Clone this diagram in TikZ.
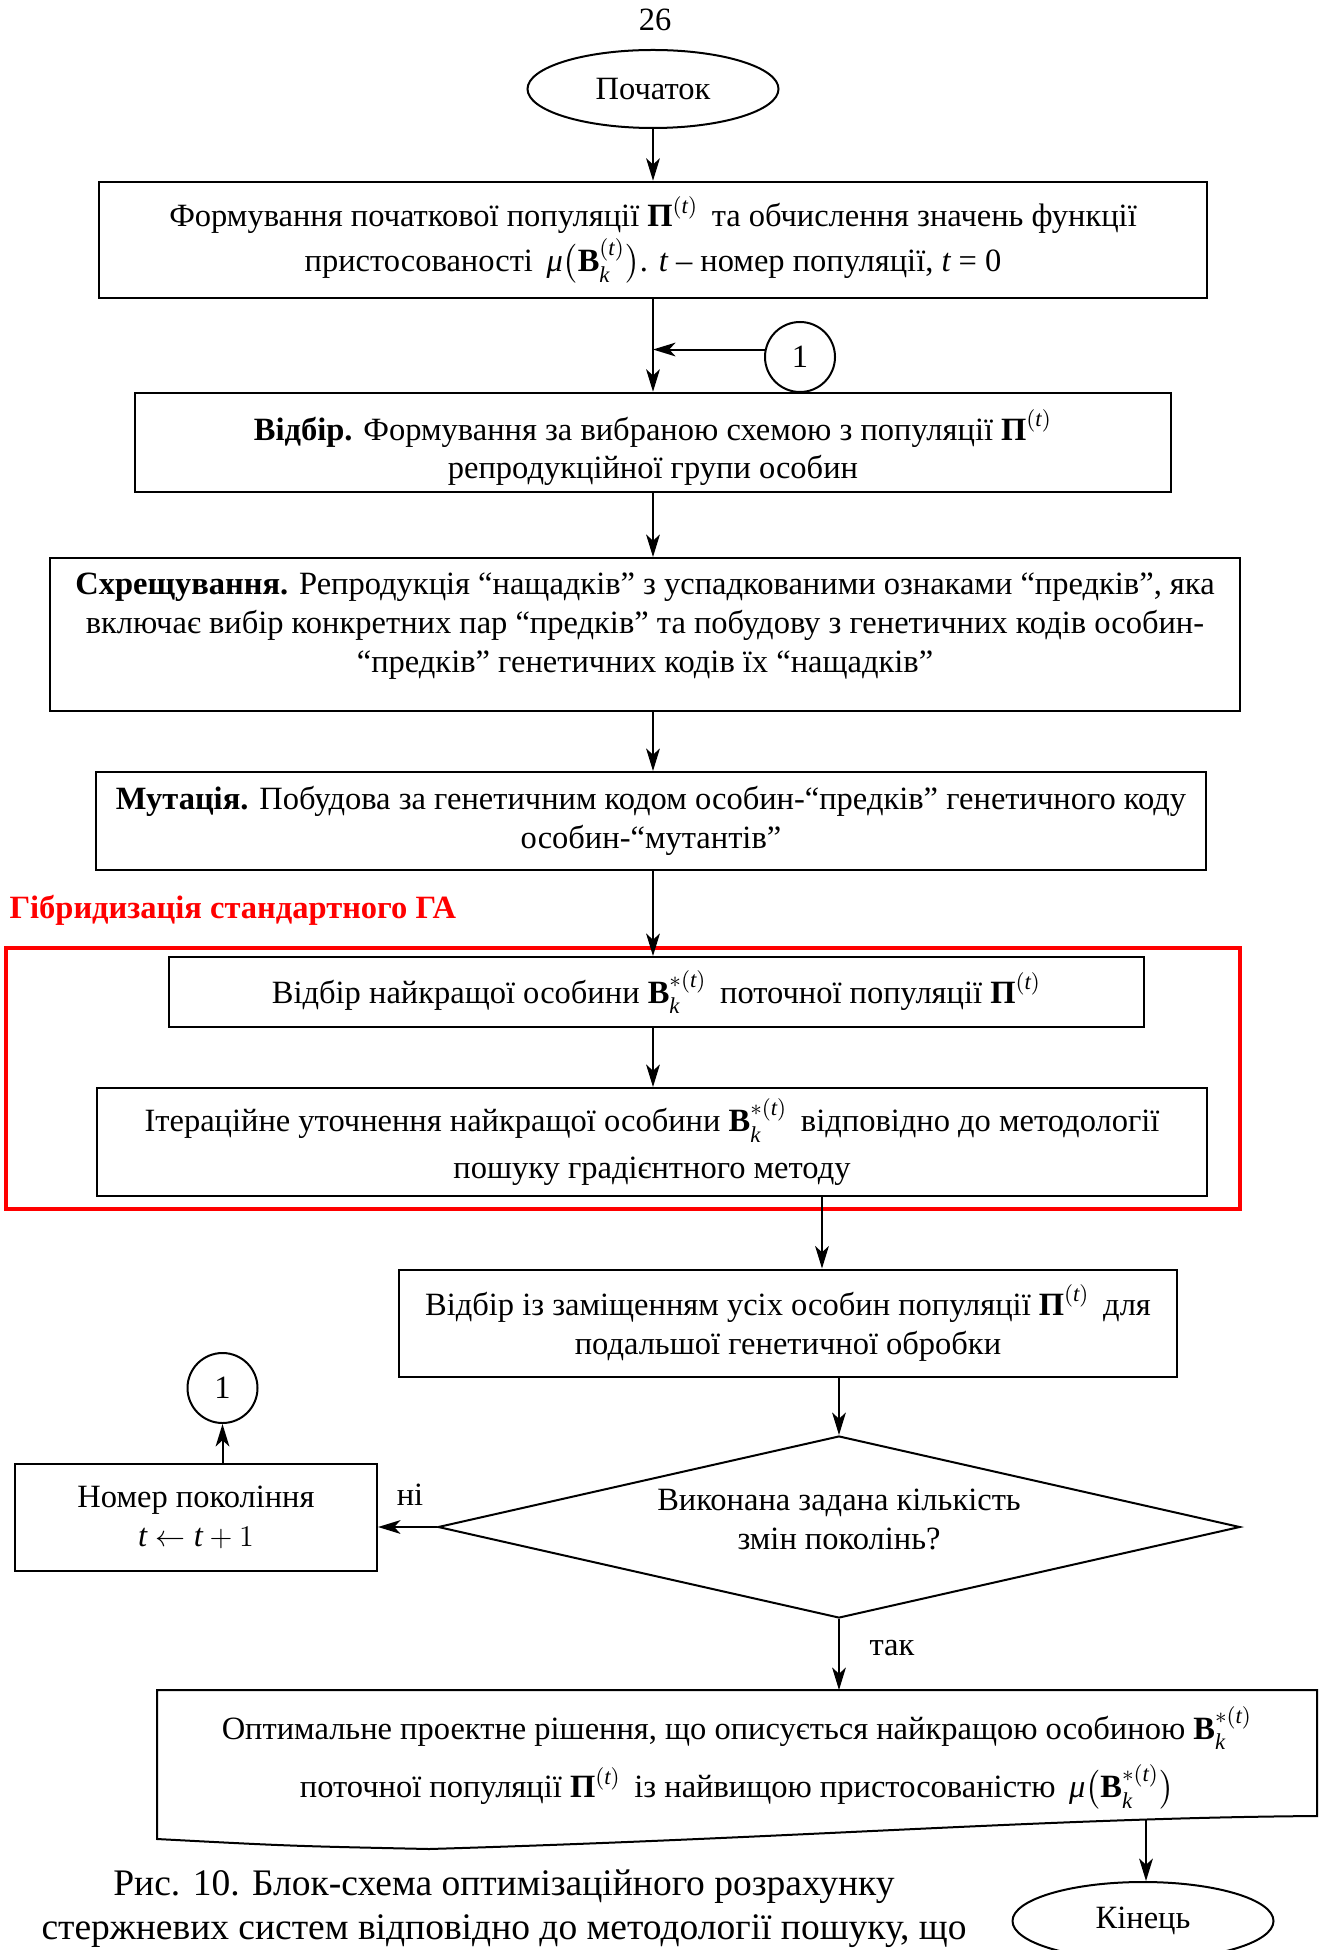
\documentclass[tikz,border=0pt]{standalone}
\usepackage{amsmath,amssymb}
\usepackage{fontspec}
\setmainfont{Liberation Serif}
\usetikzlibrary{shapes.geometric,arrows.meta}

\newcommand{\Bv}{\text{\bfseries B}}
\newcommand{\Pv}{\text{\bfseries Π}}
\newcommand{\tv}{\text{\itshape t}}
\newcommand{\kv}{\text{\itshape k}}
\newcommand{\muv}{\text{\itshape μ}}

\begin{document}
\begin{tikzpicture}[x=0.4pt,y=-0.4pt,
    napys/.style={font=\fontsize{13}{15.5}\selectfont},
    blok/.style={napys, draw, line width=0.8pt, align=center, inner sep=0pt},
    kray/.style={napys, ellipse, draw, line width=0.8pt, inner sep=0pt, minimum width=100.4pt, minimum height=31.2pt},
    kolo/.style={napys, circle, draw, line width=0.8pt, inner sep=0pt, minimum size=28pt},
    strilka/.style={line width=0.8pt, -{Stealth[length=9pt,width=5.5pt,inset=2.5pt]}}]
    \useasboundingbox (0,0) rectangle (1328,1950);
    \coordinate (osj) at (653,0);
    \coordinate (osk) at (822,0);
    %
    \node[napys] (str) at (655,20) {26};
    \node[kray] (st) at (653,89) {Початок};
    \node[blok, minimum width=442.8pt, minimum height=46.6pt] (b1) at (653,240)
        {Формування початкової популяції $\Pv^{(\tv)}$\, та обчислення значень функції\\[1pt]
         пристосованості \,$\muv\bigl(\Bv_{\kv}^{(\tv)}\bigr)$. \tv{} – номер популяції, \tv{} = 0};
    \node[kolo] (c1) at (800,357) {1};
    \node[blok, minimum width=414.4pt, minimum height=39.8pt] (b2) at (653,442.5)
        {\mbox{}\\[1pt]\textbf{Відбір.} Формування за вибраною схемою з популяції $\Pv^{(\tv)}$\\
         репродукційної групи особин};
    \node[blok, minimum width=476pt, minimum height=61.2pt] (b3) at (645,634.5)
        {\textbf{Схрещування.} Репродукція “нащадків” з успадкованими ознаками “предків”, яка\\
         включає вибір конкретних пар “предків” та побудову з генетичних кодів особин-\\
         “предків” генетичних кодів їх “нащадків”\\[-6pt]\mbox{}};
    \node[blok, minimum width=444pt, minimum height=39.2pt] (b4) at (651,821)
        {\textbf{Мутація.} Побудова за генетичним кодом особин-“предків” генетичного коду\\
         особин-“мутантів”};
    %
    \node[font=\fontsize{13}{15.5}\selectfont\bfseries, text=red, anchor=west, inner sep=0pt] (hib) at (9,910) {Гібридизація стандартного ГА};
    \draw[red, line width=1.6pt] (6,947.5) rectangle (1240,1208.5);
    \node[blok, minimum width=390pt, minimum height=28pt] (b5) at (656.5,992)
        {Відбір найкращої особини $\Bv_{\kv}^{*(\tv)}$\, поточної популяції $\Pv^{(\tv)}$};
    \node[blok, minimum width=444pt, minimum height=43.2pt] (b6) at (652,1142)
        {Ітераційне уточнення найкращої особини $\Bv_{\kv}^{*(\tv)}$\, відповідно до методології\\[3pt]
         пошуку градієнтного методу};
    %
    \node[blok, minimum width=311.2pt, minimum height=42.8pt] (b7) at (788,1323)
        {Відбір із заміщенням усіх особин популяції $\Pv^{(\tv)}$\, для\\
         подальшої генетичної обробки};
    \node[blok, diamond, aspect=4.4, minimum width=320.8pt, minimum height=72.8pt] (d) at (839,1527)
        {Виконана задана кількість\\ змін поколінь?\\[-9.5pt]\mbox{}};
    \node[blok, minimum width=144.8pt, minimum height=42.8pt] (b8) at (196,1517)
        {Номер покоління\\ $\tv \leftarrow \tv+1$};
    \node[kolo] (c2) at (222.5,1388) {1};
    \node[napys] (ni) at (410,1495) {ні};
    \node[napys] (tak) at (892,1648) {так};
    %
    \draw[line width=0.8pt] (157,1690) -- (1317,1690) -- (1317,1816)
        .. controls (1050,1818) and (800,1838) .. (429,1849)
        .. controls (290,1846) .. (157,1839) -- cycle;
    \node[napys, align=center] (fin) at (737,1758)
        {Оптимальне проектне рішення, що описується найкращою особиною $\Bv_{\kv}^{*(\tv)}$\\[5pt]
         поточної популяції $\Pv^{(\tv)}$\, із найвищою пристосованістю \,$\muv\bigl(\Bv_{\kv}^{*(\tv)}\bigr)$};
    \coordinate (finT) at (839,1690);
    \coordinate (finB) at (1146,1819);
    \node[kray, minimum width=104.4pt] (en) at (1143,1921) {Кінець};
    \node[font=\fontsize{15}{17.5}\selectfont, align=center] (pidp) at (504,1909)
        {Рис. 10. Блок-схема оптимізаційного розрахунку\\
         стержневих систем відповідно до методології пошуку, що};
    %
    \draw[strilka] (st.south) -- (b1.north);
    \draw[strilka] (b1.south -| osj) -- (b2.north -| osj);
    \draw[strilka] (c1.168) -- (c1.168 -| osj);
    \draw[strilka] (b2.south -| osj) -- (b3.north -| osj);
    \draw[strilka] (b3.south -| osj) -- (b4.north -| osj);
    \draw[strilka] (b4.south -| osj) -- (b5.north -| osj);
    \draw[strilka] (b5.south -| osj) -- (b6.north -| osj);
    \draw[strilka] (b6.south -| osk) -- (b7.north -| osk);
    \draw[strilka] (b7.south -| d.north) -- (d.north);
    \draw[strilka] (d.west) -- (b8.east |- d.west);
    \draw[strilka] (b8.north -| c2) -- (c2.south);
    \draw[strilka] (d.south) -- (finT);
    \draw[strilka] (finB) -- (en.north -| finB);
\end{tikzpicture}
\end{document}
